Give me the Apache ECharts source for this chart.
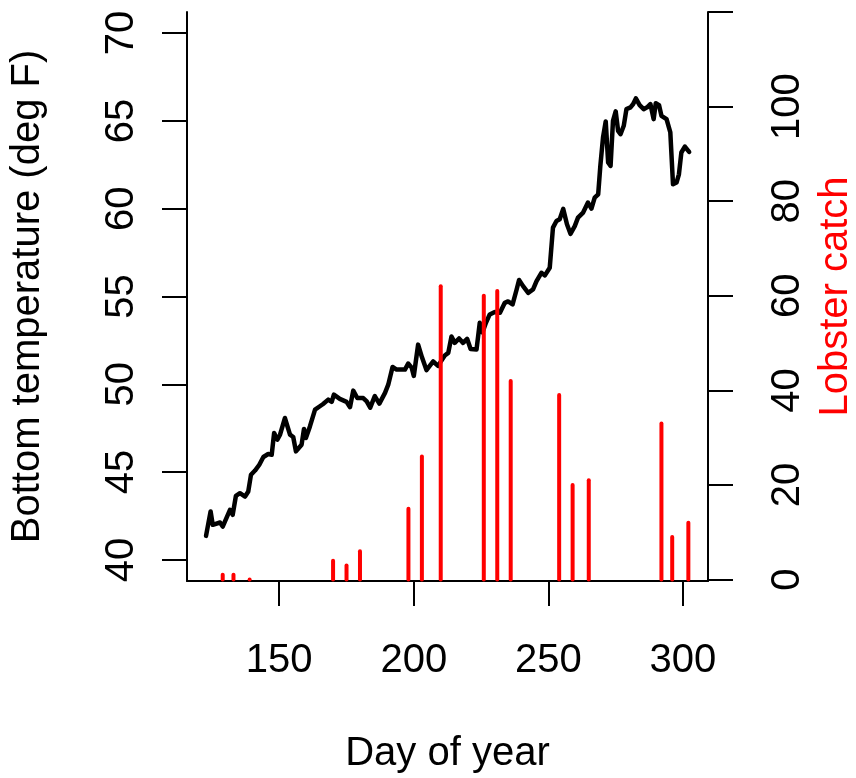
<!DOCTYPE html>
<html>
<head>
<meta charset="utf-8">
<title>Bottom temperature and lobster catch</title>
<script src="https://cdn.jsdelivr.net/npm/echarts@6/dist/echarts.min.js"></script>
<style>
  html, body { margin: 0; padding: 0; background: #fff; }
  #chart { width: 856px; height: 778px; }
</style>
</head>
<body>
<div id="chart"></div>
<script>
// temperature trace (day of year, deg F)
var tempDays = [122.8,124.5,125.3,128.0,129.0,131.7,132.7,133.9,135.4,137.3,
    138.5,139.5,141.0,142.6,144.1,145.9,147.2,148.1,149.3,150.3,
    152.1,154.0,155.2,156.2,158.3,159.2,159.9,161.4,163.3,165.1,
    166.3,168.2,169.5,170.3,172.5,175.0,176.3,177.5,179.0,181.2,
    182.5,183.8,185.5,187.2,189.3,190.5,192.1,193.6,196.7,197.9,
    199.2,200.0,201.6,203.0,204.7,207.2,209.0,211.5,212.8,214.0,
    215.2,216.8,218.3,219.8,221.1,223.3,224.5,225.5,226.8,228.2,
    230.1,232.0,233.8,235.0,236.7,238.2,239.1,240.6,242.5,244.3,
    245.6,247.4,248.7,250.5,251.7,253.0,254.2,255.5,256.9,258.2,
    259.8,261.0,262.9,264.7,266.0,267.2,268.5,269.3,270.3,271.3,
    272.2,273.1,274.0,275.0,275.9,276.8,278.0,279.0,280.5,281.5,
    282.5,283.9,285.4,286.7,287.9,289.1,289.9,291.1,292.0,293.9,
    295.3,296.3,297.6,298.5,299.4,300.7,302.3];
var tempValues = [41.37,42.76,42.0,42.13,41.9,42.85,42.57,43.65,43.8,43.61,
    43.9,44.85,45.09,45.42,45.86,46.03,45.99,47.23,46.85,47.13,
    48.08,47.13,47.0,46.18,46.56,47.46,46.94,47.6,48.56,48.75,
    48.88,49.13,49.0,49.41,49.17,49.0,48.7,49.64,49.22,49.22,
    49.03,48.67,49.33,48.9,49.51,49.98,50.99,50.84,50.84,51.18,
    50.95,50.48,52.26,51.55,50.81,51.3,51.05,51.64,51.79,52.72,
    52.36,52.61,52.36,52.59,52.01,51.98,53.5,52.95,53.5,53.98,
    54.12,54.07,54.64,54.72,54.55,55.4,55.94,55.59,55.21,55.4,
    55.88,56.35,56.2,56.64,58.92,59.3,59.4,59.99,59.11,58.57,
    59.01,59.49,59.78,60.35,60.01,60.63,60.82,62.44,64.06,64.97,
    62.63,62.44,65.0,65.54,64.43,64.24,64.72,65.67,65.77,65.96,
    66.28,65.9,65.67,65.77,65.96,65.1,66.01,65.9,65.29,65.1,
    64.34,61.39,61.49,61.96,63.2,63.54,63.23];

// lobster catch per haul day
var catchDays = [129,133,139,170,175,180,198,203,210,226,231,236,254,259,265,292,296,302];
var catchValues = [1,1,0,4,3,6,15,26,62,60,61,42,39,20,21,33,9,12];

var xTicks = [150, 200, 250, 300];
var tempTicks = [40, 45, 50, 55, 60, 65, 70];
var catchTicks = [0, 20, 40, 60, 80, 100, 120];
var catchLabels = [0, 20, 40, 60, 80, 100];

var FONT = "'Liberation Sans', Arial, Helvetica, sans-serif";

var tempData = tempDays.map(function (d, i) { return [d, tempValues[i]]; });
var catchData = catchDays.map(function (d, i) { return [d, catchValues[i]]; });

var axisLine = { show: true, onZero: false, lineStyle: { color: '#000', width: 2 } };
var tick = function (vals) {
    return { show: true, inside: false, length: 25, customValues: vals,
        lineStyle: { color: '#000', width: 2 } };
};

var chart = echarts.init(document.getElementById('chart'), null, { renderer: 'canvas' });
var option = {
    animation: false,
    backgroundColor: '#fff',
    grid: {
        left: 187, right: 148, top: 12, bottom: 197,
        containLabel: false, outerBoundsMode: 'none'
    },
    xAxis: {
        type: 'value',
        min: 115.73, max: 309.3,
        splitLine: { show: false },
        axisLine: axisLine,
        axisTick: tick(xTicks),
        axisLabel: { customValues: xTicks, margin: 60, color: '#000',
            fontSize: 40, fontFamily: FONT },
        name: 'Day of year',
        nameLocation: 'middle',
        nameGap: 153,
        nameTextStyle: { color: '#000', fontSize: 40, fontFamily: FONT }
    },
    yAxis: [{
        type: 'value',
        position: 'left',
        min: 38.8, max: 71.2,
        splitLine: { show: false },
        axisLine: axisLine,
        axisTick: tick(tempTicks),
        axisLabel: { customValues: tempTicks, rotate: 90, margin: 45, color: '#000',
            fontSize: 40, fontFamily: FONT },
        name: 'Bottom temperature (deg F)',
        nameLocation: 'middle',
        nameGap: 139,
        nameTextStyle: { color: '#000', fontSize: 40, fontFamily: FONT }
    }, {
        type: 'value',
        position: 'right',
        min: -0.3, max: 120,
        splitLine: { show: false },
        axisLine: axisLine,
        axisTick: tick(catchTicks),
        axisLabel: { customValues: catchLabels, rotate: 90, margin: 60, color: '#000',
            fontSize: 40, fontFamily: FONT },
        name: 'Lobster catch',
        nameLocation: 'middle',
        nameGap: 108,
        nameTextStyle: { color: '#ff0000', fontSize: 40, fontFamily: FONT }
    }],
    series: [{
        type: 'line',
        name: 'temperature',
        xAxisIndex: 0,
        yAxisIndex: 0,
        data: tempData,
        showSymbol: false,
        symbol: 'none',
        z: 2,
        lineStyle: { color: '#000', width: 4.5, cap: 'round', join: 'round' }
    }, {
        type: 'custom',
        name: 'catch',
        xAxisIndex: 0,
        yAxisIndex: 1,
        data: catchData,
        encode: { x: 0, y: 1 },
        z: 3,
        renderItem: function (params, api) {
            var p0 = api.coord([api.value(0), 0]);
            var p1 = api.coord([api.value(0), api.value(1)]);
            // a zero catch still shows as a round dot, like R's type = "h"
            var y2 = Math.min(p1[1], p0[1] - 0.01);
            return {
                type: 'line',
                shape: { x1: p0[0], y1: p0[1], x2: p1[0], y2: y2 },
                style: { stroke: '#ff0000', lineWidth: 4, lineCap: 'round' }
            };
        }
    }]
};
chart.setOption(option);
</script>
</body>
</html>
